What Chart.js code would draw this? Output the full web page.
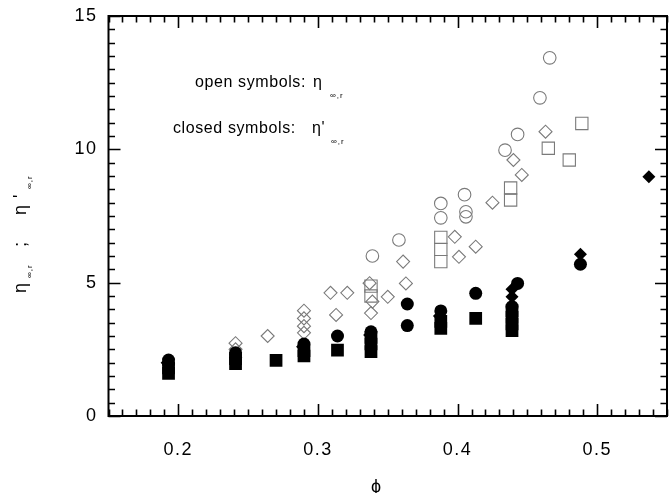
<!DOCTYPE html>
<html><head><meta charset="utf-8">
<script src="https://cdn.jsdelivr.net/npm/chart.js@4.4.0/dist/chart.umd.min.js"></script>
<style>html,body{margin:0;padding:0;background:#fff;}#wrap{width:669px;height:493px;}</style>
</head><body><div id="wrap"><canvas id="c" width="669" height="493"></canvas></div>
<script>
// ---- data (phi, eta) ----
const openCircleX = [0.339, 0.358, 0.388, 0.388, 0.405, 0.406, 0.406, 0.434, 0.443, 0.459, 0.466];
const openCircleY = [6.00, 6.60, 7.97, 7.43, 8.30, 7.66, 7.47, 9.97, 10.56, 11.93, 13.43];
const openDiamondX = [0.241, 0.241, 0.264, 0.290, 0.290, 0.290, 0.290, 0.309, 0.321, 0.313, 0.337, 0.339, 0.338, 0.350, 0.361, 0.363, 0.398, 0.401, 0.413, 0.425, 0.440, 0.446, 0.463];
const openDiamondY = [2.73, 2.50, 3.00, 3.95, 3.66, 3.37, 3.12, 4.62, 4.62, 3.79, 4.98, 4.29, 3.86, 4.47, 5.79, 4.97, 6.72, 5.97, 6.35, 8.00, 9.60, 9.04, 10.66];
const openSquareX = [0.338, 0.338, 0.388, 0.388, 0.388, 0.438, 0.438, 0.465, 0.480, 0.489];
const openSquareY = [4.87, 4.50, 6.70, 6.25, 5.79, 8.55, 8.10, 10.04, 9.60, 10.97];
const closedCircleX = [0.193, 0.193, 0.241, 0.241, 0.290, 0.314, 0.338, 0.364, 0.364, 0.388, 0.413, 0.439, 0.443, 0.488];
const closedCircleY = [2.10, 1.95, 2.37, 2.20, 2.70, 3.00, 3.16, 4.20, 3.39, 3.94, 4.60, 4.10, 4.97, 5.69];
const closedDiamondX = [0.192, 0.241, 0.289, 0.337, 0.387, 0.439, 0.439, 0.488, 0.537];
const closedDiamondY = [2.00, 2.30, 2.60, 3.04, 3.75, 4.75, 4.47, 6.07, 8.97];
const closedSquareX = [0.193, 0.193, 0.241, 0.241, 0.270, 0.290, 0.290, 0.314, 0.338, 0.338, 0.338, 0.388, 0.388, 0.413, 0.439, 0.439, 0.439, 0.439];
const closedSquareY = [1.60, 1.80, 1.96, 2.15, 2.09, 2.25, 2.45, 2.47, 2.41, 2.70, 2.95, 3.29, 3.55, 3.66, 3.20, 3.45, 3.70, 3.95];
const xTickValues = [0.2, 0.3, 0.4, 0.5];
const yTickValues = [0, 5, 10, 15];

function pts(xs, ys){ return xs.map((x,i)=>({x:x, y:ys[i]})); }

const FONT = "'Liberation Sans', Arial, Helvetica, sans-serif";

const spacingPlugin = {
  id: 'spacing',
  beforeInit(chart){ chart.ctx.letterSpacing = '1.5px'; },
  beforeUpdate(chart){ chart.ctx.letterSpacing = '1.5px'; },
  beforeDraw(chart){ chart.ctx.letterSpacing = '1.5px'; }
};

const framePlugin = {
  id: 'frame',
  afterDraw(chart){
    const ctx = chart.ctx, a = chart.chartArea;
    const xs = chart.scales.x, ys = chart.scales.y;
    ctx.save();
    ctx.strokeStyle = '#000';
    ctx.lineWidth = 2;
    ctx.strokeRect(a.left, a.top, a.right - a.left, a.bottom - a.top);
    ctx.lineWidth = 1.6;
    ctx.beginPath();
    for (let i = 15; i <= 55; i++) {
      const v = i / 100;
      const p = Math.round(xs.getPixelForValue(v)) + 0.5;
      const len = (i % 10 === 0) ? 12 : 6.5;
      ctx.moveTo(p, a.bottom); ctx.lineTo(p, a.bottom - len);
      ctx.moveTo(p, a.top); ctx.lineTo(p, a.top + len);
    }
    for (let i = 0; i <= 30; i++) {
      const v = i / 2;
      const p = Math.round(ys.getPixelForValue(v)) + 0.5;
      const len = (i % 10 === 0) ? 12 : 6.5;
      ctx.moveTo(a.left, p); ctx.lineTo(a.left + len, p);
      ctx.moveTo(a.right, p); ctx.lineTo(a.right - len, p);
    }
    ctx.stroke();

    // annotations
    ctx.fillStyle = '#000';
    ctx.textBaseline = 'alphabetic';
    ctx.textAlign = 'left';
    ctx.letterSpacing = '0.6px';
    ctx.font = '16px ' + FONT;
    ctx.fillText('open symbols:', 195, 87);
    ctx.fillText('\u03B7', 313, 87);
    ctx.fillText('closed symbols:', 173, 133);
    ctx.fillText('\u03B7\'', 312, 133);
    ctx.letterSpacing = '1px';
    ctx.font = '8px ' + FONT;
    ctx.fillText('\u221E,r', 330, 98);
    ctx.fillText('\u221E,r', 331, 144);

    // x title
    ctx.letterSpacing = '0px';
    ctx.font = '18px ' + FONT;
    ctx.textAlign = 'center';
    ctx.fillText('\u03D5', 376, 492);

    // y title rotated
    ctx.translate(26, 293);
    ctx.rotate(-Math.PI / 2);
    ctx.textAlign = 'left';
    ctx.font = '18px ' + FONT;
    ctx.fillText('\u03B7', 0, 0);
    ctx.letterSpacing = '1px';
    ctx.font = '8px ' + FONT;
    ctx.fillText('\u221E,r', 15, 6);
    ctx.letterSpacing = '0px';
    ctx.font = '18px ' + FONT;
    ctx.fillText(';', 46, 0);
    ctx.fillText('\u03B7', 78, 0);
    ctx.fillText('\'', 95, 0);
    ctx.letterSpacing = '1px';
    ctx.font = '8px ' + FONT;
    ctx.fillText('\u221E,r', 104, 6);
    ctx.restore();
  }
};

const openStyle = { backgroundColor: 'rgba(0,0,0,0)', borderColor: '#7a7a7a', borderWidth: 1.1 };
const closedStyle = { backgroundColor: '#000', borderColor: '#000', borderWidth: 0 };

new Chart(document.getElementById('c'), {
  type: 'scatter',
  data: {
    datasets: [
      Object.assign({ label: 'closed circles', data: pts(closedCircleX, closedCircleY), pointStyle: 'circle', pointRadius: 6.5 }, closedStyle),
      Object.assign({ label: 'closed diamonds', data: pts(closedDiamondX, closedDiamondY), pointStyle: 'rectRot', pointRadius: 6.5 }, closedStyle),
      Object.assign({ label: 'closed squares', data: pts(closedSquareX, closedSquareY), pointStyle: 'rect', pointRadius: 9 }, closedStyle),
      Object.assign({ label: 'open circles', data: pts(openCircleX, openCircleY), pointStyle: 'circle', pointRadius: 6.3 }, openStyle),
      Object.assign({ label: 'open diamonds', data: pts(openDiamondX, openDiamondY), pointStyle: 'rectRot', pointRadius: 6.5 }, openStyle),
      Object.assign({ label: 'open squares', data: pts(openSquareX, openSquareY), pointStyle: 'rect', pointRadius: 8.7 }, openStyle)
    ]
  },
  options: {
    responsive: false,
    animation: false,
    events: [],
    layout: { autoPadding: false, padding: { top: 16, right: 2, left: 0, bottom: 0 } },
    plugins: { legend: { display: false }, tooltip: { enabled: false } },
    scales: {
      x: {
        type: 'linear', min: 0.15, max: 0.55,
        afterFit(s){ s.height = 77; s.paddingLeft = 0; s.paddingRight = 0; },
        afterBuildTicks(s){ s.ticks = xTickValues.map(v => ({ value: v })); },
        grid: { display: false, drawTicks: false },
        border: { display: false },
        ticks: { color: '#000', font: { size: 18, family: FONT }, padding: 23, maxRotation: 0,
                 callback: v => v.toFixed(1) }
      },
      y: {
        type: 'linear', min: 0, max: 15,
        afterFit(s){ s.width = 108.5; s.paddingTop = 0; s.paddingBottom = 0; },
        afterBuildTicks(s){ s.ticks = yTickValues.map(v => ({ value: v })); },
        grid: { display: false, drawTicks: false },
        border: { display: false },
        ticks: { color: '#000', font: { size: 18, family: FONT }, padding: 11,
                 callback: v => String(v) }
      }
    }
  },
  plugins: [spacingPlugin, framePlugin]
});
</script></body></html>
